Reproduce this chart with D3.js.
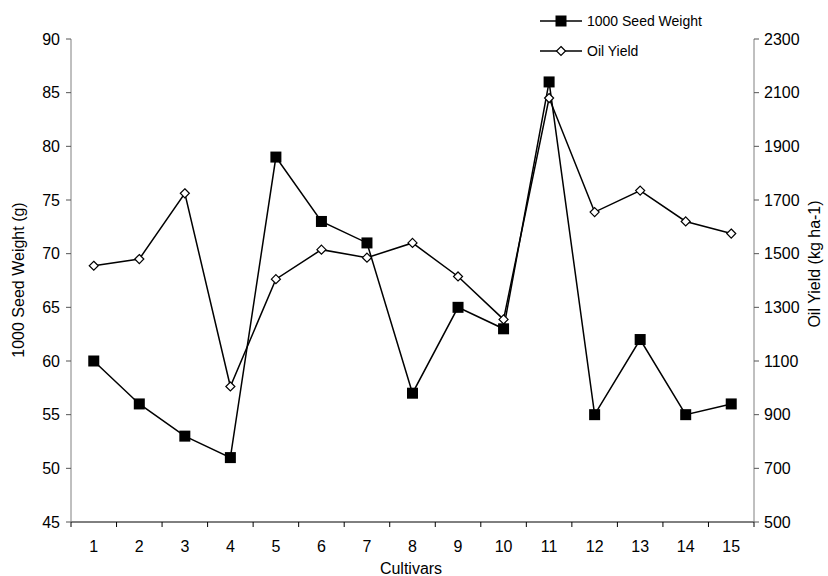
<!DOCTYPE html>
<html>
<head>
<meta charset="utf-8">
<script src="https://cdn.jsdelivr.net/npm/d3@7"></script>
<style>
  body { margin: 0; background: #fff; }
  text { font-family: "Liberation Sans", Arial, sans-serif; }
</style>
</head>
<body>
<svg id="chart" width="828" height="576"></svg>
<script>
const cultivars = [1, 2, 3, 4, 5, 6, 7, 8, 9, 10, 11, 12, 13, 14, 15];
const seedWeight = [60, 56, 53, 51, 79, 73, 71, 57, 65, 63, 86, 55, 62, 55, 56];
const oilYield = [1455, 1480, 1725, 1005, 1405, 1515, 1485, 1540, 1415, 1255, 2080, 1655, 1735, 1620, 1575];
const leftTicks = [45, 50, 55, 60, 65, 70, 75, 80, 85, 90];
const rightTicks = [500, 700, 900, 1100, 1300, 1500, 1700, 1900, 2100, 2300];

const svg = d3.select("#chart");
const plotL = 71, plotR = 754, plotT = 39, plotB = 522;

const x = d3.scaleBand().domain(cultivars).range([plotL, plotR]);
const yL = d3.scaleLinear().domain([45, 90]).range([plotB, plotT]);
const yR = d3.scaleLinear().domain([500, 2300]).range([plotB, plotT]);
const cx = (d) => x(d) + x.bandwidth() / 2;

// x axis, ticks between categories
const gx = svg.append("g").attr("transform", `translate(0,${plotB})`);
gx.append("line").attr("x1", plotL).attr("x2", plotR).attr("stroke", "#000");
gx.selectAll(".tk")
  .data(d3.range(cultivars.length + 1))
  .enter()
  .append("line")
  .attr("x1", (i) => plotL + i * x.bandwidth())
  .attr("x2", (i) => plotL + i * x.bandwidth())
  .attr("y1", 0)
  .attr("y2", 5)
  .attr("stroke", "#000");
gx.selectAll(".lb")
  .data(cultivars)
  .enter()
  .append("text")
  .attr("x", cx)
  .attr("y", 30)
  .attr("text-anchor", "middle")
  .attr("font-size", 16)
  .text((d) => d);

// left axis
const gl = svg.append("g").attr("transform", `translate(${plotL},0)`);
gl.append("line").attr("y1", plotT).attr("y2", plotB).attr("stroke", "#808080");
gl.selectAll("line.t")
  .data(leftTicks)
  .enter()
  .append("line")
  .attr("class", "t")
  .attr("x1", -5)
  .attr("x2", 0)
  .attr("y1", yL)
  .attr("y2", yL)
  .attr("stroke", "#555");
gl.selectAll("text")
  .data(leftTicks)
  .enter()
  .append("text")
  .attr("x", -11)
  .attr("y", yL)
  .attr("dy", "0.35em")
  .attr("text-anchor", "end")
  .attr("font-size", 16)
  .text((d) => d);

// right axis
const gr = svg.append("g").attr("transform", `translate(${plotR},0)`);
gr.append("line").attr("y1", plotT).attr("y2", plotB).attr("stroke", "#808080");
gr.selectAll("line.t")
  .data(rightTicks)
  .enter()
  .append("line")
  .attr("class", "t")
  .attr("x1", 0)
  .attr("x2", 5)
  .attr("y1", yR)
  .attr("y2", yR)
  .attr("stroke", "#555");
gr.selectAll("text")
  .data(rightTicks)
  .enter()
  .append("text")
  .attr("x", 10)
  .attr("y", yR)
  .attr("dy", "0.35em")
  .attr("font-size", 16)
  .text((d) => d);

// axis titles
svg.append("text")
  .attr("transform", "translate(24,280) rotate(-90)")
  .attr("text-anchor", "middle")
  .attr("font-size", 16)
  .text("1000 Seed Weight (g)");
svg.append("text")
  .attr("transform", "translate(820,264) rotate(-90)")
  .attr("text-anchor", "middle")
  .attr("font-size", 16)
  .text("Oil Yield (kg ha-1)");
svg.append("text")
  .attr("x", 411)
  .attr("y", 574)
  .attr("text-anchor", "middle")
  .attr("font-size", 16)
  .text("Cultivars");

// series
const line = (yScale, vals) =>
  d3.line().x((d, i) => cx(cultivars[i])).y((d) => yScale(d))(vals);

svg.append("path")
  .attr("d", line(yL, seedWeight))
  .attr("fill", "none")
  .attr("stroke", "#000")
  .attr("stroke-width", 1.5);
svg.append("path")
  .attr("d", line(yR, oilYield))
  .attr("fill", "none")
  .attr("stroke", "#000")
  .attr("stroke-width", 1.5);

svg.selectAll(".sq")
  .data(seedWeight)
  .enter()
  .append("rect")
  .attr("x", (d, i) => cx(cultivars[i]) - 5.5)
  .attr("y", (d) => yL(d) - 5.5)
  .attr("width", 11)
  .attr("height", 11)
  .attr("fill", "#000");

const diamond = d3.symbol().type(d3.symbolDiamond2).size(52);
svg.selectAll(".dm")
  .data(oilYield)
  .enter()
  .append("path")
  .attr("d", diamond)
  .attr("transform", (d, i) => `translate(${cx(cultivars[i])},${yR(d)})`)
  .attr("fill", "#fff")
  .attr("stroke", "#000")
  .attr("stroke-width", 1.2);

// legend
const lg = svg.append("g");
lg.append("line").attr("x1", 540).attr("x2", 582).attr("y1", 21).attr("y2", 21).attr("stroke", "#000").attr("stroke-width", 1.5);
lg.append("rect").attr("x", 555.5).attr("y", 15.5).attr("width", 11).attr("height", 11).attr("fill", "#000");
lg.append("text").attr("x", 587).attr("y", 21).attr("dy", "0.35em").attr("font-size", 14).text("1000 Seed Weight");
lg.append("line").attr("x1", 540).attr("x2", 582).attr("y1", 51).attr("y2", 51).attr("stroke", "#000").attr("stroke-width", 1.5);
lg.append("path").attr("d", diamond).attr("transform", "translate(561,51)").attr("fill", "#fff").attr("stroke", "#000").attr("stroke-width", 1.2);
lg.append("text").attr("x", 587).attr("y", 51).attr("dy", "0.35em").attr("font-size", 14).text("Oil Yield");
</script>
</body>
</html>
